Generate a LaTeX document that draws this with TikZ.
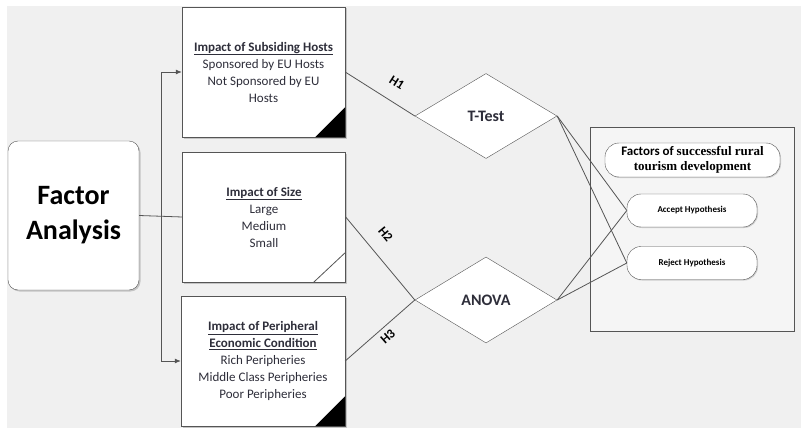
\documentclass[tikz,border=0pt]{standalone}
\usepackage{fontspec}
\setmainfont{Carlito}
\newfontfamily\serifpart{Liberation Serif}
\usetikzlibrary{shapes.geometric,arrows.meta,shadows}
\definecolor{bgcol}{HTML}{F0F0F0}
\definecolor{linecol}{HTML}{555555}
\definecolor{txtcol}{HTML}{2E2E3A}

\begin{document}
\begin{tikzpicture}[x=1pt,y=-1pt,
 box/.style={draw=linecol,fill=white,minimum width=163pt,minimum height=130pt,
  align=center,text=txtcol,font=\fontsize{13}{17}\selectfont,inner sep=0pt,
  drop shadow={shadow xshift=1.5pt,shadow yshift=-1.5pt,fill=black!40}},
 test/.style={diamond,draw=linecol,fill=white,minimum width=142pt,minimum height=85pt,
  inner sep=0pt,text=txtcol,font=\fontsize{16}{18}\selectfont\bfseries},
 hyp/.style={draw=linecol,fill=white,rounded corners=14pt,minimum width=130pt,
  minimum height=33pt,text=black,font=\fontsize{9}{11}\selectfont\bfseries,
  drop shadow={shadow xshift=1pt,shadow yshift=-1pt,fill=black!35}},
 link/.style={draw=linecol,line width=0.8pt},
 feed/.style={link,-{Latex[length=6pt,width=5pt]}},
 hlabel/.style={sloped,inner sep=1pt,text=black,font=\fontsize{13}{15}\selectfont\bfseries}]
 \useasboundingbox (0,0) rectangle (801,428);
 \fill[bgcol] (7,6) rectangle (801,428);

 % left part
 \node[draw=linecol,fill=white,rounded corners=10pt,minimum width=131pt,minimum height=149pt,
  align=center,font=\fontsize{28}{35}\selectfont\bfseries,
  drop shadow={shadow xshift=1.5pt,shadow yshift=-1.5pt,fill=black!40}]
  (fa) at (73.5,215.5) {Factor\\Analysis};
 \node[box] (hosts) at (263.5,72) {{\bfseries\underline{Impact of Subsiding Hosts}}\\
  Sponsored by EU Hosts\\Not Sponsored by EU\\Hosts};
 \node[box] (size) at (264,217) {{\bfseries\underline{Impact of Size}}\\Large\\Medium\\Small};
 \node[box,minimum width=164pt] (periph) at (263,361) {{\bfseries\underline{Impact of Peripheral}}\\
  {\bfseries\underline{Economic Condition}}\\Rich Peripheries\\Middle Class Peripheries\\Poor Peripheries};
 \fill (hosts.south east) -- ++(-30,0) -- ++(30,-30) -- cycle;
 \fill (periph.south east) -- ++(-30,0) -- ++(30,-30) -- cycle;
 \draw[link] ([xshift=-32pt]size.south east) -- ([yshift=30pt]size.south east);

 \coordinate (split) at (161,216);
 \draw[link] (fa.east) -- (size.west);
 \draw[feed] (split) |- (hosts.west);
 \draw[feed] (split) |- (periph.west);

 % tests
 \node[test] (ttest) at (486,116) {T-Test};
 \node[test,minimum height=86pt] (anova) at (486,300) {ANOVA};
 \draw[link] (hosts.east) -- node[hlabel,pos=0.6,above=13pt] {H1} (ttest.west);
 \draw[link] (size.east) -- node[hlabel,pos=0.36,above=14pt] {H2} (anova.west);
 \draw[link] (periph.east) -- node[hlabel,pos=0.52,below=4pt] {H3} (anova.west);

 % right part
 \node[draw=linecol,fill=black!4,minimum width=204pt,minimum height=204pt,
  drop shadow={shadow xshift=1pt,shadow yshift=-1pt,fill=black!30}] (result) at (692,229) {};
 \node[hyp,minimum width=175pt,minimum height=34pt,inner sep=1pt,align=center,
  font=\fontsize{13}{15}\selectfont\bfseries] (factors) at (692.5,160)
  {Factors of {\serifpart successful rural}\\{\serifpart tourism development}};
 \node[hyp] (accept) at (692,210.5) {Accept Hypothesis};
 \node[hyp] (reject) at (692,263) {Reject Hypothesis};
 \foreach \t in {ttest,anova}
  \foreach \h in {accept,reject}
   \draw[link] (\t.east) -- (\h.west);
\end{tikzpicture}
\end{document}
